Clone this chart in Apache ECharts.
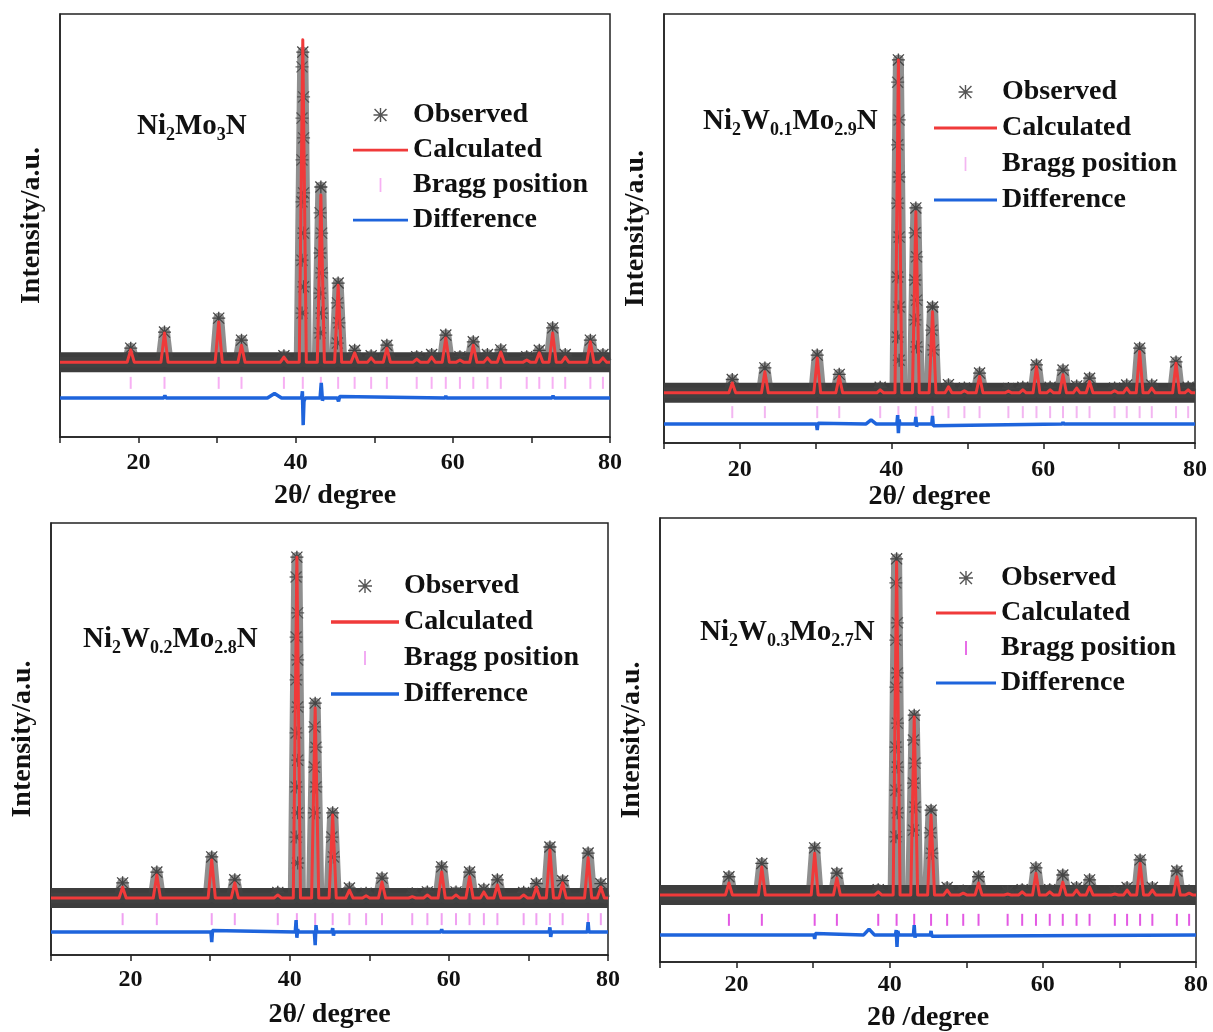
<!DOCTYPE html>
<html><head><meta charset="utf-8">
<script src="https://cdn.jsdelivr.net/npm/echarts@6/dist/echarts.min.js"></script>
<style>html,body{margin:0;padding:0;background:#fff}#c{width:1213px;height:1032px}</style>
</head><body><div id="c"></div>
<script>
// ---------- DATA ----------
const braggPos = [19.0, 23.3, 30.2, 33.1, 38.5, 40.9, 43.2, 45.4, 47.5, 49.6, 51.6, 55.4, 57.3, 59.1, 60.9, 62.6, 64.4, 66.1, 69.4, 71.0, 72.7, 74.3, 77.5, 79.1];
const xTickLabels = [20, 40, 60, 80];
const sampleNames = ['{n|Ni}{s|2}{n|Mo}{s|3}{n|N}', '{n|Ni}{s|2}{n|W}{s|0.1}{n|Mo}{s|2.9}{n|N}', '{n|Ni}{s|2}{n|W}{s|0.2}{n|Mo}{s|2.8}{n|N}', '{n|Ni}{s|2}{n|W}{s|0.3}{n|Mo}{s|2.7}{n|N}'];
const xNames = ['2θ/ degree', '2θ/ degree', '2θ/ degree', '2θ /degree'];
const baseLevel = [177, 117, 132, 151];
const braggLevel = [128, 72, 83, 95];

const calc1 = [206, 246, 272, 217, 189, 939, 572, 359, 199, 187, 210, 184, 189, 234, 182, 217, 187, 201, 182, 199, 246, 189, 225, 187];
const calc2 = [140, 166, 198, 155, 124, 893, 539, 306, 131, 122, 155, 121, 124, 178, 124, 159, 128, 143, 122, 128, 213, 128, 186, 124];
const calc3 = [157, 185, 220, 167, 139, 921, 572, 324, 150, 137, 169, 135, 139, 192, 139, 181, 146, 162, 139, 157, 243, 167, 225, 157];
const calc4 = [178, 214, 245, 189, 158, 901, 552, 331, 162, 155, 178, 153, 158, 200, 158, 180, 162, 169, 153, 162, 222, 162, 192, 155];

const obs1 = [210, 248, 281, 229, 192, 910, 591, 364, 205, 192, 217, 190, 195, 241, 190, 225, 195, 206, 190, 205, 258, 195, 229, 195];
const obs2 = [148, 175, 205, 160, 130, 893, 548, 317, 136, 128, 163, 127, 130, 182, 130, 170, 133, 151, 128, 135, 221, 135, 189, 130];
const obs3 = [167, 192, 227, 174, 145, 921, 583, 329, 155, 143, 178, 142, 146, 204, 146, 192, 152, 174, 145, 165, 250, 172, 236, 165];
const obs4 = [192, 222, 257, 200, 163, 908, 556, 342, 168, 160, 192, 158, 163, 212, 163, 196, 168, 185, 158, 168, 230, 168, 205, 160];

const flank1 = [[40.8,875],[41.0,804],[40.8,754],[41.0,707],[40.8,655],[41.0,577],[40.8,556],[41.0,482],[40.8,418],[41.0,355],[40.8,293],[43.1,530],[43.3,482],[43.1,435],[43.3,388],[43.1,340],[43.3,293],[43.1,246],[45.3,317],[45.5,270],[45.3,222]];
const flank2 = [[40.8,841],[41.0,753],[40.8,695],[41.0,620],[40.8,559],[41.0,480],[40.8,387],[41.0,317],[40.8,247],[41.0,193],[43.1,490],[43.3,434],[43.1,380],[43.3,333],[43.1,287],[43.3,224],[45.3,263],[45.5,217]];
const flank3 = [[40.8,875],[41.0,792],[40.8,736],[41.0,683],[40.8,637],[41.0,574],[40.8,514],[41.0,451],[40.8,389],[41.0,329],[40.8,273],[41.0,213],[43.1,528],[43.3,481],[43.1,435],[43.3,389],[43.1,329],[45.3,273],[45.5,227]];
const flank4 = [[40.8,854],[41.0,764],[40.8,725],[41.0,651],[40.8,619],[41.0,538],[40.8,484],[41.0,439],[40.8,387],[41.0,336],[40.8,282],[43.1,500],[43.3,448],[43.1,403],[43.3,349],[43.1,297],[45.3,291],[45.5,245]];

const diff1 = [[10,92],[18.9,92],[19.0,96],[19.1,92],[23.2,92],[23.35,98],[23.5,92],[30.1,92],[30.2,95],[30.3,92],[36.4,92],[37.3,103],[38.2,92],[40.75,92],[40.85,108],[40.95,28],[41.05,84],[41.2,92],[43.1,92],[43.25,128],[43.4,86],[43.5,92],[45.3,92],[45.45,84],[45.6,96],[45.7,92],[59.0,92],[59.1,97],[59.2,92],[72.6,92],[72.75,97],[72.9,92],[80,92]];
const diff2 = [[10,44],[30.1,44],[30.2,30],[30.3,46],[30.4,44],[36.6,44],[37.3,54],[38.0,44],[40.7,44],[40.8,65],[40.9,23],[41.0,55],[41.1,44],[43.1,44],[43.2,61],[43.3,38],[43.4,44],[45.3,44],[45.4,63],[45.5,40],[45.6,44],[62.5,44],[62.6,49],[62.7,44],[80,44]];
const diff3 = [[10,53],[30.1,53],[30.2,30],[30.3,57],[30.4,53],[40.7,53],[40.8,81],[40.9,40],[41.0,60],[41.1,53],[43.1,53],[43.2,23],[43.3,69],[43.4,53],[45.3,53],[45.4,62],[45.5,45],[45.6,53],[59.0,53],[59.1,60],[59.2,53],[72.6,53],[72.7,64],[72.8,42],[72.9,53],[77.4,53],[77.5,76],[77.6,53],[80,53]];
const diff4 = [[10,61],[30.1,61],[30.2,52],[30.3,64],[30.4,61],[36.6,61],[37.3,74],[38.0,61],[40.75,61],[40.85,72],[40.95,34],[41.05,70],[41.2,61],[43.1,61],[43.2,83],[43.3,55],[43.4,61],[45.3,61],[45.4,70],[45.5,58],[45.6,61],[80,61]];

// ---------- STYLE / LAYOUT ----------
const calcs = [calc1, calc2, calc3, calc4];
const obss = [obs1, obs2, obs3, obs4];
const flanks = [flank1, flank2, flank3, flank4];
const diffs = [diff1, diff2, diff3, diff4];
const FONT = "'Liberation Serif', 'Times New Roman', serif";
const braggColors = ['#f59cf0', '#f0a4ee', '#ec88ee', '#dc30dc'];
const AST = 'path://M4.5,0H5.5V10H4.5Z M0,4.5H10V5.5H0Z M1.1,0.4L9.6,8.9L8.9,9.6L0.4,1.1Z M8.9,0.4L9.6,1.1L1.1,9.6L0.4,8.9Z';
const TICK = 'path://M0,0H1V8H0Z';
const HLINE = 'path://M0,0H20V1H0Z';

const grids = [
  {left: 60, top: 14, width: 550, height: 423},
  {left: 664, top: 14, width: 531, height: 429},
  {left: 51, top: 523, width: 557, height: 432},
  {left: 660, top: 518, width: 536, height: 444}
];
const labelMargin = [14, 15, 13, 11];
const nameGapX = [45, 40, 46, 42];
const titlePos = [[137, 110], [703, 105], [83, 623], [700, 616]];
const legendPos = [
  {left: 353, top: 101, itemWidth: 55, itemGap: 7},
  {left: 934, top: 78, itemWidth: 63, itemGap: 8},
  {left: 331, top: 572, itemWidth: 68, itemGap: 8},
  {left: 936, top: 564, itemWidth: 60, itemGap: 7}
];

function peakProfile(heights, base, markPeaks) {
  const pt = (x, y) => (markPeaks ? {value: [x, y], symbol: 'none'} : [x, y]);
  const d = [pt(10, base)];
  braggPos.forEach((p, j) => { d.push(pt(p - 0.45, base), [p, heights[j]], pt(p + 0.45, base)); });
  d.push(pt(80, base));
  return d;
}

const axisLineStyle = {color: '#222', width: 1.5};
const option = {
  backgroundColor: '#fff',
  animation: false,
  grid: grids.map(g => Object.assign({show: true, borderColor: '#222', borderWidth: 1.5, containLabel: false, outerBoundsMode: 'none'}, g)),
  xAxis: grids.map((g, i) => ({
    gridIndex: i, type: 'value', min: 10, max: 80, interval: 10,
    axisLine: {show: true, onZero: false, lineStyle: axisLineStyle},
    axisTick: {show: true, length: 6, inside: false, lineStyle: axisLineStyle},
    axisLabel: {margin: labelMargin[i], color: '#111', fontFamily: FONT, fontWeight: 'bold', fontSize: 24,
      formatter: v => (xTickLabels.indexOf(v) >= 0 ? String(v) : '')},
    splitLine: {show: false},
    name: xNames[i], nameLocation: 'middle', nameGap: nameGapX[i], nameMoveOverlap: false,
    nameTextStyle: {color: '#111', fontFamily: FONT, fontWeight: 'bold', fontSize: 28}
  })),
  yAxis: grids.map((g, i) => ({
    gridIndex: i, type: 'value', min: 0, max: 1000,
    axisLine: {show: true, onZero: false, lineStyle: axisLineStyle},
    axisTick: {show: false}, axisLabel: {show: false}, splitLine: {show: false},
    name: 'Intensity/a.u.', nameLocation: 'middle', nameGap: 14, nameRotate: 90, nameMoveOverlap: false,
    nameTextStyle: {color: '#111', fontFamily: FONT, fontWeight: 'bold', fontSize: 28}
  })),
  title: sampleNames.map((t, i) => ({
    text: t, left: titlePos[i][0], top: titlePos[i][1], padding: 0,
    textStyle: {rich: {
      n: {fontFamily: FONT, fontWeight: 'bold', fontSize: 29, color: '#111', lineHeight: 34, verticalAlign: 'middle'},
      s: {fontFamily: FONT, fontWeight: 'bold', fontSize: 18, color: '#111', lineHeight: 18, verticalAlign: 'bottom'}
    }}
  })),
  legend: legendPos.map((lp, i) => ({
    orient: 'vertical', left: lp.left, top: lp.top, itemWidth: lp.itemWidth, itemHeight: 14, itemGap: lp.itemGap,
    padding: 0, selectedMode: false,
    textStyle: {color: '#111', fontFamily: FONT, fontWeight: 'bold', fontSize: 28},
    data: [
      {name: 'Observed', icon: AST, itemStyle: {color: '#555', borderWidth: 0}},
      {name: 'Calculated', icon: HLINE, itemStyle: {color: '#f03a3a', borderWidth: 0}},
      {name: 'Bragg position', icon: TICK, itemStyle: {color: braggColors[i], borderWidth: 0}},
      {name: 'Difference', icon: HLINE, itemStyle: {color: '#1e64dc', borderWidth: 0}}
    ]
  })),
  series: []
};

for (let i = 0; i < 4; i++) {
  const base = baseLevel[i];
  option.series.push(
    {name: 'Observed', type: 'line', xAxisIndex: i, yAxisIndex: i, z: 1, silent: true,
      data: [[10, base], [80, base]], symbol: 'none',
      lineStyle: {color: '#3d3d3d', width: 20}},
    {name: 'Observed', type: 'line', xAxisIndex: i, yAxisIndex: i, z: 2, silent: true,
      data: peakProfile(obss[i], base, true), symbol: AST, symbolSize: 13, showSymbol: true, showAllSymbol: true,
      itemStyle: {color: '#444'}, lineStyle: {color: '#444', width: 11, opacity: 0.6, join: 'round'}},
    {name: 'Observed', type: 'scatter', xAxisIndex: i, yAxisIndex: i, z: 3, silent: true,
      data: flanks[i], symbol: AST, symbolSize: 13, itemStyle: {color: '#444'}},
    {name: 'Calculated', type: 'line', xAxisIndex: i, yAxisIndex: i, z: 4, silent: true,
      data: peakProfile(calcs[i], base, false), symbol: 'none', itemStyle: {color: '#f03a3a'},
      lineStyle: {color: '#f03a3a', width: 3, join: 'round'}},
    {name: 'Bragg position', type: 'scatter', xAxisIndex: i, yAxisIndex: i, z: 4, silent: true,
      data: braggPos.map(p => [p, braggLevel[i]]), symbol: 'rect', symbolSize: [2, 12],
      itemStyle: {color: braggColors[i]}},
    {name: 'Difference', type: 'line', xAxisIndex: i, yAxisIndex: i, z: 5, silent: true,
      data: diffs[i], symbol: 'none', itemStyle: {color: '#1e64dc'},
      lineStyle: {color: '#1e64dc', width: 3.5}}
  );
}

const chart = echarts.init(document.getElementById('c'), null, {renderer: 'canvas'});
chart.setOption(option);
</script>
</body></html>
